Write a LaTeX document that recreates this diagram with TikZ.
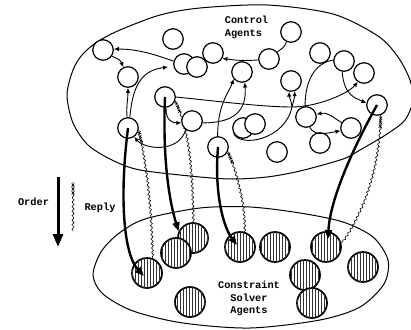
\documentclass[tikz,border=0pt]{standalone}
\usepackage{fontspec}
\setmonofont{Liberation Mono}
\usetikzlibrary{arrows.meta,decorations.pathmorphing,decorations.markings,patterns,calc}

\begin{document}
\begin{tikzpicture}[x=1pt,y=-1pt,
  ctrl/.style={circle,draw,fill=white,line width=1.2pt,minimum size=20.5pt,inner sep=0pt},
  solver/.style={circle,draw,line width=1.7pt,minimum size=30pt,inner sep=0pt,fill=white,
    postaction={pattern=vertical lines,pattern color=black!80}},
  link/.style={line width=0.9pt,-{Latex[length=5pt,width=4.5pt]}},
  plainlink/.style={line width=0.9pt},
  order/.style={line width=2.4pt,-{Triangle[length=9pt,width=7pt]}},
  xmark/.style={line width=0.65pt},
  reply/.style={draw=none,
    postaction={draw,line width=0.7pt,dash pattern=on 1.6pt off 0.5pt,decorate,
      decoration={snake,amplitude=1pt,segment length=4.5pt,pre length=12pt}},
    postaction={decorate,decoration={markings,
      mark=at position 3pt with {\draw[xmark] (-1.5pt,-1.5pt)--(1.5pt,1.5pt) (-1.5pt,1.5pt)--(1.5pt,-1.5pt);},
      mark=at position 7pt with {\draw[xmark] (-1.5pt,-1.5pt)--(1.5pt,1.5pt) (-1.5pt,1.5pt)--(1.5pt,-1.5pt);},
      mark=at position 11pt with {\draw[xmark] (-1.5pt,-1.5pt)--(1.5pt,1.5pt) (-1.5pt,1.5pt)--(1.5pt,-1.5pt);}}}},
  outline/.style={line width=1pt},
  lbl/.style={font=\ttfamily\bfseries\fontsize{10.3}{12.5}\selectfont,inner sep=0pt}
]
\useasboundingbox (0,0) rectangle (411,329);

% the two agent societies
\draw[outline] plot[smooth cycle,tension=0.5] coordinates {
  (67,95) (73,70) (82,55) (97,42) (120,30) (160,15) (200,8) (267,5) (333,14)
  (378,36) (398,57) (410,80) (413,100) (405,120) (387,134) (360,150) (343,159)
  (300,171) (267,177) (233,179) (200,177) (140,170) (112,160) (88,145) (73,123)};
\draw[outline] plot[smooth cycle,tension=0.5] coordinates {
  (93,275) (101,252) (118,234) (145,219) (200,208) (250,207) (300,213) (343,222)
  (373,237) (388,260) (384,284) (360,307) (320,320) (250,328) (183,323) (133,311) (103,294)};

% constraint solver agents
\node[solver] (sa) at (147,273) {};
\node[solver] (sc) at (193,238) {};
\node[solver] (sb) at (176,253) {};
\node[solver] (sd) at (240,247) {};
\node[solver] (se) at (275,247) {};
\node[solver] (sf) at (326,247) {};
\node[solver] (sg) at (363,267) {};
\node[solver] (sh) at (305,275) {};
\node[solver] (si) at (312,303) {};
\node[solver] (sj) at (190,302) {};

% control agents
\node[ctrl] (c1) at (103,50) {};
\node[ctrl] (c2) at (173,39) {};
\node[ctrl] (c3) at (128,77) {};
\node[ctrl] (c14) at (165,97) {};
\node[ctrl] (c16) at (128,128) {};
\node[ctrl] (c20) at (377,105) {};
\node[ctrl] (c23) at (218,147) {};

% replies (solver -> controller)
\path[reply] (c16.-10) .. controls (148,170) and (152,220) .. (sa.70);
\path[reply] (c14.-20) .. controls (186,125) and (192,150) .. (sc.90);
\path[reply] (c23.-25) .. controls (238,175) and (246,210) .. (sd.75);
\path[reply] (c20.-70) .. controls (380,150) and (372,200) .. (sf.15);

\node[ctrl] (c4) at (184,64) {};
\node[ctrl] (c5) at (197,67) {};
\node[ctrl] (c6) at (213,53) {};
\node[ctrl] (c7) at (291,32) {};
\node[ctrl] (c8) at (269,59) {};
\node[ctrl] (c9) at (320,53) {};
\node[ctrl] (c10) at (344,61) {};
\node[ctrl] (c11) at (364,73) {};
\node[ctrl] (c12) at (242,72) {};
\node[ctrl] (c13) at (291,81) {};
\node[ctrl] (c15) at (192,121) {};
\node[ctrl] (c17a) at (243,128) {};
\node[ctrl] (c17b) at (255,124) {};
\node[ctrl] (c18) at (306,117) {};
\node[ctrl] (c19) at (351,128) {};
\node[ctrl] (c21) at (277,152) {};
\node[ctrl] (c22) at (320,143) {};

% communication among control agents
\coordinate (t6end) at (168,67);
\coordinate (jn) at (292,107);
\draw[link] (c4.165) .. controls +(-22,-8) and +(22,0) .. (c1.5);
\draw[plainlink] (c7.-115) .. controls +(-3,7) and +(6,-5) .. (c8.40);
\draw[link] (c8.185) .. controls +(-14,1) and +(14,2) .. (c6.-30);
\draw[link] (c1.-35) .. controls +(9,4) and +(-3,-7) .. (c3.115);
\draw[link] (c16.95) .. controls +(-1,-12) and +(0,12) .. (c3.-90);
\draw[link] (c16.80) .. controls +(3,-38) and +(-22,3) .. (t6end);
\draw[link] (c15.-125) .. controls +(-8,24) and +(10,12) .. (c16.-55);
\draw[link] (c14.-85) .. controls +(0,14) and +(-8,0) .. (c15.190);
\draw[link] (c14.east) .. controls +(40,4) and +(-30,0) .. (jn)
  .. controls +(25,0) and +(-10,12) .. (c11.-125);
\draw[link] (c15.-10) .. controls +(32,0) and +(2,28) .. (c12.-75);
\draw[link] (c23.92) .. controls +(0,-32) and +(-5,14) .. (c12.-140);
\draw[link] (c17a.210) .. controls (240,148) and (285,140) .. (jn)
  .. controls +(-1,-8) and +(0,6) .. (c13.-100);
\draw[link] (jn) .. controls +(2,-8) and +(0,6) .. (c13.-70);
\draw[plainlink] (c18.95) .. controls +(0,-30) and +(-15,2) .. (c10.175);
\draw[link] (c10.-100) .. controls +(2,25) and +(-10,-5) .. (c20.170);
\draw[link] (c19.150) .. controls +(-10,-6) and +(12,-2) .. (c18.15);
\draw[link] (c18.-70) .. controls +(5,10) and +(-12,2) .. (c19.195);

% orders (controller -> solver)
\draw[order] (c16.center) .. controls (119,200) and (124,255) .. ($(sa.center)+(-3,3)$);
\draw[order] (c14.center) .. controls (162,170) and (172,210) .. (sc.155);
\draw[order] (c23.center) .. controls (214,195) and (224,228) .. ($(sd.center)+(-3,-2)$);
\draw[order] (c20.center) .. controls (352,150) and (330,200) .. ($(sf.center)+(2,-8)$);

% legend
\coordinate (ordtop) at (58,177);
\coordinate (ordbot) at (58,247);
\coordinate (reptop) at (73,182);
\coordinate (repbot) at (73,231);
\draw[line width=3pt,-{Triangle[length=13pt,width=10pt]}] (ordtop) -- (ordbot);
\path[reply] (reptop) -- (repbot);
\node[lbl] (ordlbl) at (33.5,202) {Order};
\node[lbl] (replbl) at (100,208) {Reply};

% society labels
\node[lbl,align=left] (ctllbl) at (246.5,27.5) {Control\\Agents};
\node[lbl,align=center] (cslbl) at (249,298.5) {Constraint\\Solver\\Agents};
\end{tikzpicture}
\end{document}
